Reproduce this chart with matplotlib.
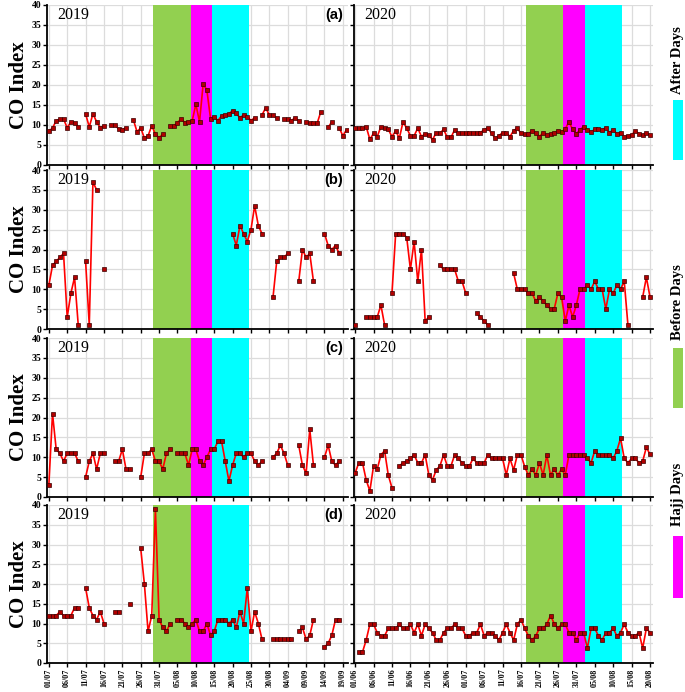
import numpy as np
import matplotlib
matplotlib.use('Agg')
import matplotlib.pyplot as plt
from matplotlib.patches import Rectangle

nan = np.nan

# tick labels (every 5 days)
ticks_2019 = ['01/07', '06/07', '11/07', '16/07', '21/07', '26/07', '31/07', '05/08', '10/08',
              '15/08', '20/08', '25/08', '30/08', '04/09', '09/09', '14/09', '19/09']
ticks_2020 = ['01/06', '06/06', '11/06', '16/06', '21/06', '26/06', '01/07', '06/07', '11/07',
              '16/07', '21/07', '26/07', '31/07', '05/08', '10/08', '15/08', '20/08']

# period limits in days from the first date (before / hajj / after)
periods_2019 = [28.4, 38.6, 44.4, 54.4]
periods_2020 = [46.4, 56.4, 62.4, 72.4]

# daily CO index, 2019 (from 01/07) and 2020 (from 01/06)
a_2019 = [8.5, 9.2, 11.1, 11.4, 11.5, 9.3, 10.8, 10.6, 9.5, nan, 12.8, 9.5, 12.8, 10.8, 9.3, 9.8, nan,
          10, 10, 9, 8.8, 9.3, nan, 11.3, 8.3, 9.3, 6.7, 7.3, 9.8, 7.7, 6.8, 7.7, nan, 9.8, 9.8, 10.6,
          11.5, 10.6, 10.8, 11, 15.2, 10.8, 20.3, 18.7, 11.6, 12, 11.1, 12.3, 12.5, 12.8, 13.6, 12.9,
          11.8, 12.5, 12.1, 11.1, 11.8, nan, 12.5, 14.3, 12.5, 12.5, 11.7, nan, 11.4, 11.4, 11.1, 11.8,
          11, nan, 10.8, 10.4, 10.4, 10.4, 13.3, nan, 9.4, 10.8, nan, 9.3, 7.3, 8.8]
a_2020 = [9.3, 9.2, 9.2, 9.6, 6.4, 7.9, 7.1, 9.6, 9.3, 8.9, 7.1, 8.5, 6.7, 10.8, 9.2, 7.3, 7.3, 9.2, 7.1,
          7.8, 7.5, 6.3, 8.1, 7.9, 8.9, 6.9, 6.9, 8.8, 7.9, 8.1, 7.9, 8.1, 8.1, 8.1, 8.1, 8.8, 9.3, 7.9,
          6.7, 7.3, 8.1, 8.1, 7.1, 8.6, 9.2, 7.9, 7.8, 7.8, 8.5, 8.1, 7.1, 8.1, 7.5, 7.8, 8.1, 8.5, 8.3,
          9.0, 10.8, 8.9, 7.8, 8.8, 9.6, 8.8, 8.3, 8.9, 8.9, 8.8, 9.3, 8.1, 8.8, 7.8, 8.1, 7.1, 7.3, 7.5,
          8.5, 7.8, 7.5, 8.0, 7.5]

b_2019 = ([11, 16, 17, 18, 19, 3, 9, 13, 1, nan, 17, 1, 37, 35, nan, 15] + [nan] * 34 +
          [24, 21, 26, 24, 22, 25, 31, 26, 24, nan, nan, 8, 17, 18, 18, 19, nan, nan, 12, 20, 18, 19,
           12, nan, nan, 24, 21, 20, 21, 19])
b_2020 = [1, nan, nan, 3, 3, 3, 3, 6, 1, nan, 9, 24, 24, 24, 23, 15, 22, 12, 20, 2, 3, nan, nan, 16, 15,
          15, 15, 15, 12, 12, 9, nan, nan, 4, 3, 2, 1, nan, nan, nan, nan, nan, nan, 14, 10, 10, 10, 9,
          9, 7, 8, 7, 6, 5, 5, 9, 8, 2, 6, 3, 6, 10, 10, 11, 10, 12, 10, 10, 5, 10, 9, 11, 10, 12, 1,
          nan, nan, nan, 8, 13, 8]

c_2019 = [3, 21, 12, 11, 9, 11, 11, 11, 9, nan, 5, 9, 11, 7, 11, 11, nan, nan, 9, 9, 12, 7, 7, nan, nan,
          5, 11, 11, 12, 9, 9, 7, 11, 12, nan, 11, 11, 11, 8, 12, 12, 9, 8, 10, 12, 12, 14, 14, 9, 4, 8,
          11, 11, 10, 11, 11, 9, 8, 9, nan, nan, 10, 11, 13, 11, 8, nan, nan, 13, 8, 6, 17, 8, nan, nan,
          10, 13, 9, 8, 9]
c_2020 = [6, 8.6, 8.6, 4.3, 1.5, 7.8, 7, 10.6, 11.6, 5.5, 2.3, nan, 7.8, 8.6, 9, 9.7, 10.6, 8.6, 8.6,
          10.6, 5.5, 4.3, 6.8, 7.8, 10.6, 7.8, 7.8, 10.6, 9.7, 8.6, 7.8, 7.8, 9.7, 8.6, 8.6, 8.6, 10.6,
          9.7, 9.7, 9.7, 9.7, 5.5, 9.7, 6.8, 10.6, 10.6, 7.6, 5.5, 7, 5.5, 8.6, 5.5, 10.6, 5.5, 7, 5.5,
          7, 5.5, 10.6, 10.6, 10.6, 10.6, 10.6, 9.7, 8.6, 11.6, 10.6, 10.6, 10.6, 10.6, 9.7, 11.6, 14.8,
          9.7, 8.6, 9.7, 9.7, 8.6, 9, 12.5, 10.7]

d_2019 = [12, 12, 12, 13, 12, 12, 12, 14, 14, nan, 19, 14, 12, 11, 13, 10, nan, nan, 13, 13, nan, nan,
          15, nan, nan, 29, 20, 8, 12, 39, 11, 9, 8, 10, nan, 11, 11, 10, 9, 10, 11, 8, 8, 10, 7, 8, 11,
          11, 11, 10, 11, 9, 13, 10, 19, 8, 13, 10, 6, nan, nan, 6, 6, 6, 6, 6, 6, nan, 8, 9, 6, 7, 11,
          nan, nan, 4, 5, 7, 11, 11]
d_2020 = [nan, 2.75, 2.75, 5.8, 9.8, 9.8, 7.7, 6.9, 6.9, 8.75, 8.75, 8.75, 9.8, 8.75, 8.75, 9.8, 7.7,
          9.8, 6.9, 9.8, 8.75, 7.7, 5.8, 5.8, 7.7, 8.75, 8.75, 9.8, 8.75, 8.75, 6.9, 6.9, 7.7, 7.7, 9.8,
          6.9, 7.7, 7.7, 6.9, 5.8, 7.7, 9.8, 7.7, 5.8, 9.8, 11, 8.75, 6.9, 5.8, 6.9, 8.75, 8.75, 9.8,
          12, 10, 8.75, 9.8, 9.8, 7.7, 7.7, 5.8, 7.7, 7.7, 3.75, 8.75, 8.75, 6.9, 5.8, 7.7, 7.7, 8.75,
          6.9, 7.7, 9.8, 7.7, 6.9, 6.9, 7.7, 3.75, 8.75, 7.7]

rows = [('(a)', a_2019, a_2020), ('(b)', b_2019, b_2020),
        ('(c)', c_2019, c_2020), ('(d)', d_2019, d_2020)]

GREEN, MAGENTA, CYAN = '#92D050', '#FF00FF', '#00FFFF'
SERIF = 'Liberation Serif'

W, H = 685, 692
fig = plt.figure(figsize=(W / 100, H / 100), dpi=100)

# panel boxes in pixels: (top, bottom)
row_px = [(5, 165), (170, 329), (338, 497), (505, 663)]
col_px = [(47, 348), (354, 653)]
xlims = [(-0.5, 81.4), (-0.3, 80.8)]


def draw_panel(ax, values, periods, ticklabels, year, tag, left, bottom_row):
    g0, g1, m1, c1 = periods
    ax.axvspan(g0, g1, color=GREEN, lw=0, zorder=1)
    ax.axvspan(g1, m1, color=MAGENTA, lw=0, zorder=1)
    ax.axvspan(m1, c1, color=CYAN, lw=0, zorder=1)
    y = np.array(values, dtype=float)
    x = np.arange(len(y))
    ax.plot(x, y, color='#FF0000', lw=1.2, marker='s', ms=3.2,
            mfc='#B00000', mec='#3a0000', mew=0.5, zorder=3)
    ax.set_xlim(*xlims[0 if left else 1])
    ax.set_ylim(0, 40)
    ax.set_yticks(np.arange(0, 41, 5))
    ax.set_xticks(np.arange(0, 81, 5))
    ax.grid(True, color='#DCDCDC', lw=0.9, zorder=0)
    ax.set_axisbelow(True)
    for s in ('top', 'right'):
        ax.spines[s].set_visible(False)
    ax.spines['left'].set_linewidth(1.3)
    ax.spines['bottom'].set_linewidth(1.3)
    ax.tick_params(axis='both', length=3, width=1, direction='out', pad=1)
    if left:
        ax.set_yticklabels([str(v) for v in range(0, 41, 5)],
                           fontfamily=SERIF, fontweight='bold', fontsize=7)
        ax.set_ylabel('CO Index', fontfamily=SERIF, fontweight='bold', fontsize=15, labelpad=2)
        ax.text(0.985, 0.935, tag, transform=ax.transAxes, ha='right', va='center',
                fontfamily='Liberation Sans', fontweight='bold', fontsize=10.5)
    else:
        ax.set_yticklabels([])
    if bottom_row:
        ax.set_xticklabels(ticklabels, rotation=90, fontfamily=SERIF,
                           fontweight='bold', fontsize=5.8)
    else:
        ax.set_xticklabels([])
    ax.text(0.035, 0.935, year, transform=ax.transAxes, ha='left', va='center',
            fontfamily=SERIF, fontsize=11.5, zorder=4)


for r, (tag, v19, v20) in enumerate(rows):
    top, bot = row_px[r]
    for c, (vals, per, tl, yr) in enumerate([(v19, periods_2019, ticks_2019, '2019'),
                                             (v20, periods_2020, ticks_2020, '2020')]):
        l, rr = col_px[c]
        ax = fig.add_axes([l / W, 1 - bot / H, (rr - l) / W, (bot - top) / H])
        draw_panel(ax, vals, per, tl, yr, tag, c == 0, r == 3)

# vertical legend on the right
legend_items = [('After Days', CYAN, 60, (100, 160)),
                ('Before Days', GREEN, 302, (348, 408)),
                ('Hajj Days', MAGENTA, 494, (536, 598))]
for label, color, ty, (b0, b1) in legend_items:
    fig.text(677 / W, 1 - ty / H, label, rotation=90, ha='center', va='center',
             fontfamily=SERIF, fontweight='bold', fontsize=10.5)
    fig.add_artist(Rectangle((673 / W, 1 - b1 / H), 10 / W, (b1 - b0) / H,
                             transform=fig.transFigure, color=color, lw=0))

fig.savefig('out.png', dpi=100)
